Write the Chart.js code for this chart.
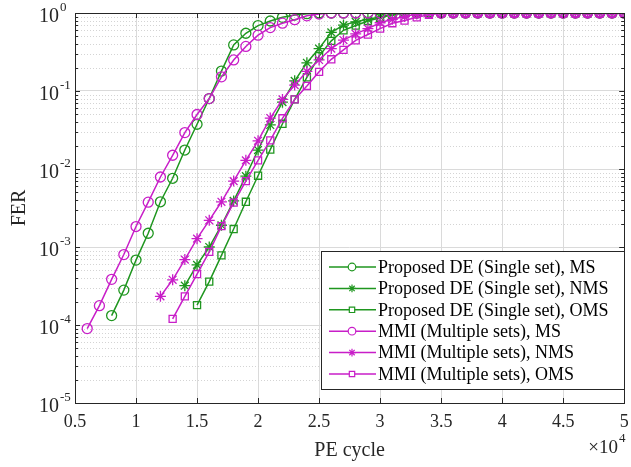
<!DOCTYPE html>
<html>
<head>
<meta charset="utf-8">
<script src="https://cdn.jsdelivr.net/npm/chart.js@4.4.1/dist/chart.umd.min.js"></script>
<style>
  html, body { margin: 0; padding: 0; background: #fff; }
</style>
</head>
<body>
<canvas id="ferChart" width="631" height="467"></canvas>
<script>
// PE cycle (x 10^4), one entry per measured point
const peCycles = [0.6, 0.7, 0.8, 0.9, 1.0, 1.1, 1.2, 1.3, 1.4, 1.5,
  1.6, 1.7, 1.8, 1.9, 2.0, 2.1, 2.2, 2.3, 2.4, 2.5,
  2.6, 2.7, 2.8, 2.9, 3.0, 3.1, 3.2, 3.3, 3.4, 3.5,
  3.6, 3.7, 3.8, 3.9, 4.0, 4.1, 4.2, 4.3, 4.4, 4.5,
  4.6, 4.7, 4.8, 4.9, 5.0];

const seriesLabels = [
  "Proposed DE (Single set), MS",
  "Proposed DE (Single set), NMS",
  "Proposed DE (Single set), OMS",
  "MMI (Multiple sets), MS",
  "MMI (Multiple sets), NMS",
  "MMI (Multiple sets), OMS"
];

// FER values, null where the curve has no point
const deMS = [null, null, 1.32e-4, 2.8e-4, 6.8e-4, 1.5e-3, 3.8e-3, 7.6e-3, 1.75e-2, 3.75e-2,
  0.08, 0.18, 0.39, 0.55, 0.69, 0.79, 0.88, 0.94, 0.98, 1,
  1, 1, 1, 1, 1, 1, 1, 1, 1, 1,
  1, 1, 1, 1, 1, 1, 1, 1, 1, 1,
  1, 1, 1, 1, 1];
const deNMS = [null, null, null, null, null, null, null, null, 3.19e-4, 5.9e-4,
  1.0e-3, 1.9e-3, 3.9e-3, 8.1e-3, 1.75e-2, 3.67e-2, 7.2e-2, 0.135, 0.23, 0.35,
  0.565, 0.7, 0.77, 0.83, 0.89, 0.97, 1, 1, 1, 1,
  1, 1, 1, 1, 1, 1, 1, 1, 1, 1,
  1, 1, 1, 1, 1];
const deOMS = [null, null, null, null, null, null, null, null, null, 1.8e-4,
  3.6e-4, 7.8e-4, 1.7e-3, 3.8e-3, 8.2e-3, 1.77e-2, 3.8e-2, 7.8e-2, 0.15, 0.28,
  0.44, 0.6, 0.69, 0.79, 0.87, 0.95, 1, 1, 1, 1,
  1, 1, 1, 1, 1, 1, 1, 1, 1, 1,
  1, 1, 1, 1, 1];
const mmiMS = [9.0e-5, 1.77e-4, 3.85e-4, 8.0e-4, 1.83e-3, 3.76e-3, 7.9e-3, 1.5e-2, 2.93e-2, 5.0e-2,
  0.08, 0.152, 0.25, 0.373, 0.52, 0.65, 0.74, 0.82, 0.92, 0.97,
  1, 1, 1, 1, 1, 1, 1, 1, 1, 1,
  1, 1, 1, 1, 1, 1, 1, 1, 1, 1,
  1, 1, 1, 1, 1];
const mmiNMS = [null, null, null, null, null, null, 2.33e-4, 3.8e-4, 6.9e-4, 1.28e-3,
  2.2e-3, 3.8e-3, 7.0e-3, 1.29e-2, 2.3e-2, 4.5e-2, 7.8e-2, 0.119, 0.178, 0.25,
  0.35, 0.45, 0.54, 0.63, 0.75, 0.83, 0.9, 0.97, 1, 1,
  1, 1, 1, 1, 1, 1, 1, 1, 1, 1,
  1, 1, 1, 1, 1];
const mmiOMS = [null, null, null, null, null, null, null, 1.2e-4, 2.33e-4, 4.5e-4,
  8.65e-4, 1.85e-3, 3.7e-3, 7.0e-3, 1.29e-2, 2.33e-2, 4.47e-2, 7.8e-2, 0.116, 0.176,
  0.255, 0.337, 0.445, 0.53, 0.63, 0.74, 0.8, 0.88, 0.95, 1,
  1, 1, 1, 1, 1, 1, 1, 1, 1, 1,
  1, 1, 1, 1, 1];

const xTicks = [0.5, 1, 1.5, 2, 2.5, 3, 3.5, 4, 4.5, 5];
const yDecades = [0, -1, -2, -3, -4, -5];

const GREEN = "#1f961f";
const MAGENTA = "#c81ec8";
const AXIS = "#262626";
const FONT = "'Liberation Serif', 'Times New Roman', serif";

function toPoints(values) {
  const pts = [];
  values.forEach((v, i) => {
    if (v !== null) pts.push({ x: peCycles[i], y: v });
  });
  return pts;
}

// later series are drawn on top, as in the original plot
function makeSet(label, values, color, style, idx) {
  return {
    label: label,
    data: toPoints(values),
    order: 5 - idx,
    borderColor: color,
    backgroundColor: "rgba(0,0,0,0)",
    borderWidth: 1.5,
    pointStyle: style,
    pointRadius: style === "star" ? 5.5 : 5,
    pointBorderWidth: 1.3,
    pointBorderColor: color,
    pointBackgroundColor: "rgba(0,0,0,0)",
    tension: 0
  };
}

const datasets = [
  makeSet(seriesLabels[0], deMS, GREEN, "circle", 0),
  makeSet(seriesLabels[1], deNMS, GREEN, "star", 1),
  makeSet(seriesLabels[2], deOMS, GREEN, "rect", 2),
  makeSet(seriesLabels[3], mmiMS, MAGENTA, "circle", 3),
  makeSet(seriesLabels[4], mmiNMS, MAGENTA, "star", 4),
  makeSet(seriesLabels[5], mmiOMS, MAGENTA, "rect", 5)
];

// MATLAB-like box: minor dotted grid, inward ticks, superscript labels, legend inside
const matlabAxes = {
  id: "matlabAxes",
  beforeDatasetsDraw(chart) {
    const { ctx, chartArea: a, scales: { y } } = chart;
    ctx.save();
    ctx.strokeStyle = "#d4d4d4";
    ctx.lineWidth = 1;
    ctx.setLineDash([1, 2]);
    yDecades.slice(0, -1).forEach(e => {
      for (let m = 2; m <= 9; m++) {
        const py = Math.round(y.getPixelForValue(m * Math.pow(10, e - 1))) + 0.5;
        ctx.beginPath();
        ctx.moveTo(a.left, py);
        ctx.lineTo(a.right, py);
        ctx.stroke();
      }
    });
    ctx.restore();
  },
  afterDraw(chart) {
    const { ctx, chartArea: a, scales: { x, y } } = chart;
    ctx.save();
    ctx.strokeStyle = AXIS;
    ctx.lineWidth = 1;
    ctx.strokeRect(Math.round(a.left) + 0.5, Math.round(a.top) + 0.5,
      Math.round(a.right - a.left), Math.round(a.bottom - a.top));

    // inward ticks
    ctx.beginPath();
    xTicks.forEach(v => {
      const px = Math.round(x.getPixelForValue(v)) + 0.5;
      ctx.moveTo(px, a.bottom); ctx.lineTo(px, a.bottom - 5);
      ctx.moveTo(px, a.top); ctx.lineTo(px, a.top + 5);
    });
    yDecades.forEach(e => {
      const py = Math.round(y.getPixelForValue(Math.pow(10, e))) + 0.5;
      ctx.moveTo(a.left, py); ctx.lineTo(a.left + 5, py);
      ctx.moveTo(a.right, py); ctx.lineTo(a.right - 5, py);
      if (e > -5) {
        for (let m = 2; m <= 9; m++) {
          const q = Math.round(y.getPixelForValue(m * Math.pow(10, e - 1))) + 0.5;
          ctx.moveTo(a.left, q); ctx.lineTo(a.left + 3, q);
          ctx.moveTo(a.right, q); ctx.lineTo(a.right - 3, q);
        }
      }
    });
    ctx.stroke();

    // y tick labels 10^e
    ctx.fillStyle = AXIS;
    ctx.textBaseline = "middle";
    yDecades.forEach(e => {
      const py = y.getPixelForValue(Math.pow(10, e));
      ctx.font = "20px " + FONT;
      ctx.textAlign = "right";
      ctx.fillText("10", 59, py + 4);
      ctx.font = "13px " + FONT;
      ctx.textAlign = "left";
      ctx.fillText(String(e), 60, py - 5);
    });

    // x exponent
    ctx.font = "19px " + FONT;
    ctx.textAlign = "right";
    ctx.fillText("\u00d710", 618, 448);
    ctx.font = "13px " + FONT;
    ctx.textAlign = "left";
    ctx.fillText("4", 619, 439);

    // legend
    const lx = 321, ly = 251, lw = 303, lh = 138;
    ctx.fillStyle = "#fff";
    ctx.fillRect(lx, ly, lw, lh);
    ctx.strokeStyle = AXIS;
    ctx.strokeRect(lx + 0.5, ly + 0.5, lw, lh);
    chart.data.datasets.forEach((ds, i) => {
      const ry = ly + 16 + i * 21.4;
      ctx.strokeStyle = ds.borderColor;
      ctx.lineWidth = 1.5;
      ctx.beginPath();
      ctx.moveTo(329, ry); ctx.lineTo(376, ry);
      ctx.stroke();
      ctx.fillStyle = "#fff";
      ctx.lineWidth = 1.2;
      if (Chart.helpers && Chart.helpers.drawPoint) {
        Chart.helpers.drawPoint(ctx, { pointStyle: ds.pointStyle, rotation: 0, radius: 3.8, borderWidth: 1.2 }, 352, ry);
      }
      ctx.fillStyle = "#000";
      ctx.font = "18px " + FONT;
      ctx.textAlign = "left";
      ctx.textBaseline = "middle";
      ctx.fillText(ds.label, 378, ry + 1);
    });
    ctx.restore();
  }
};

new Chart(document.getElementById("ferChart"), {
  type: "line",
  data: { datasets: datasets },
  options: {
    responsive: false,
    animation: false,
    layout: { padding: { top: 13, right: 4, left: 0, bottom: 0 } },
    plugins: { legend: { display: false }, tooltip: { enabled: false } },
    scales: {
      x: {
        type: "linear",
        min: 0.5,
        max: 5,
        afterBuildTicks: s => { s.ticks = xTicks.map(v => ({ value: v })); },
        afterFit: s => { s.height = 64; s.paddingLeft = 0; s.paddingRight = 0; },
        ticks: {
          color: AXIS,
          font: { family: FONT, size: 18 },
          padding: 8,
          maxRotation: 0,
          callback: v => String(v)
        },
        grid: { color: "#dadada", drawTicks: false },
        border: { display: false },
        title: {
          display: true,
          text: "PE cycle",
          color: AXIS,
          font: { family: FONT, size: 20 },
          padding: { top: 0, bottom: 4 }
        }
      },
      y: {
        type: "logarithmic",
        min: 1e-5,
        max: 1,
        afterBuildTicks: s => { s.ticks = yDecades.map(e => ({ value: Math.pow(10, e) })); },
        afterFit: s => { s.width = 75; s.paddingTop = 0; s.paddingBottom = 0; },
        ticks: { display: false },
        grid: { color: "#dadada", drawTicks: false },
        border: { display: false },
        title: {
          display: true,
          text: "FER",
          color: AXIS,
          font: { family: FONT, size: 20 },
          padding: { top: 8, bottom: 0 }
        }
      }
    }
  },
  plugins: [matlabAxes]
});
</script>
</body>
</html>
